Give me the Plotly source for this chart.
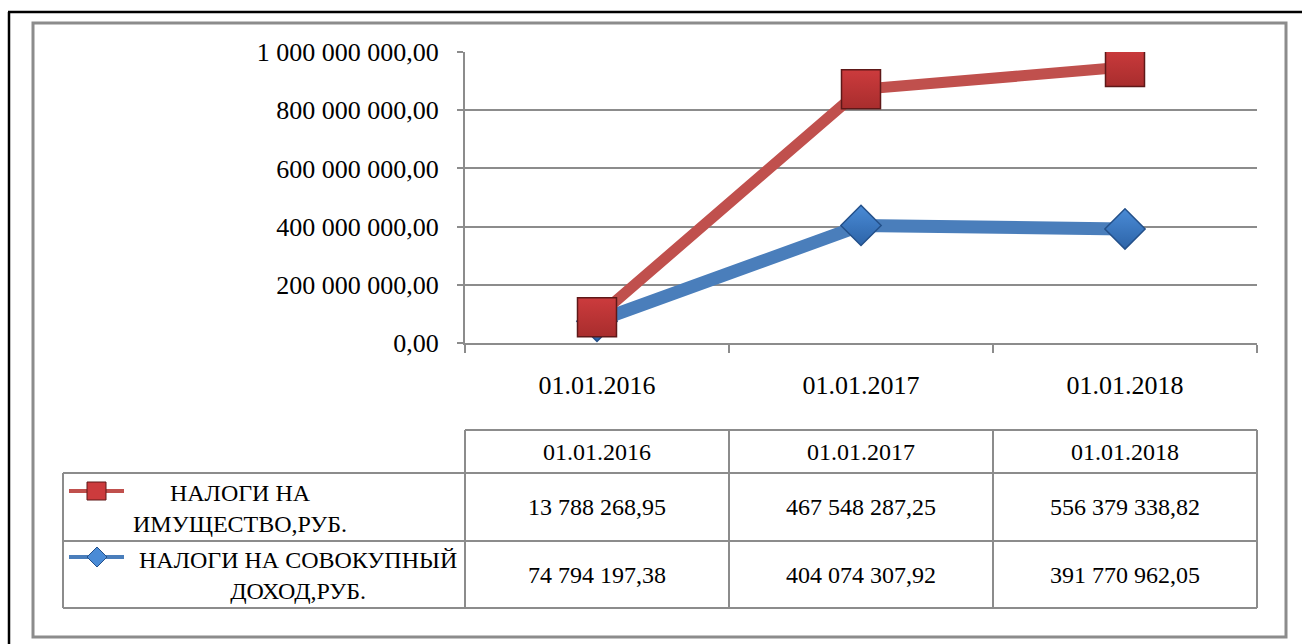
import plotly.graph_objects as go

# ---- data ----
dates = ["01.01.2016", "01.01.2017", "01.01.2018"]
series_names = ["НАЛОГИ НА ИМУЩЕСТВО,РУБ.", "НАЛОГИ НА СОВОКУПНЫЙ ДОХОД,РУБ."]
property_tax = [13788268.95, 467548287.25, 556379338.82]
income_tax = [74794197.38, 404074307.92, 391770962.05]
y_ticks = [0, 200000000, 400000000, 600000000, 800000000, 1000000000]


def ru(v):
    return f"{v:,.2f}".replace(",", " ").replace(".", ",")


W, H = 1302, 644
FONT = "Liberation Serif"
GRAY = "#8C8C8C"
RED_LINE = "#C0504D"
RED_MK = "#CC3B3D"
RED_MK2 = "#A82D2D"
BLUE_LINE = "#4A7EBB"
BLUE_MK = "#4A8BD6"
BLUE_MK2 = "#2D64A8"


def px(x):
    return x / W


def py(y):
    return 1 - y / H


# plot area pixel geometry
X0, X1 = 465, 1257
Y_TOP, Y_BOT = 52, 343

fig = go.Figure()

# stacked lines (blue first, red stacked on top)
fig.add_trace(go.Scatter(
    x=dates, y=income_tax, name=series_names[1], stackgroup="one", fill="none",
    mode="lines+markers",
    line=dict(color=BLUE_LINE, width=13),
    marker=dict(symbol="diamond", size=31, color=BLUE_MK,
                gradient=dict(type="vertical", color=BLUE_MK2),
                line=dict(color="#23508A", width=1.5)),
))
fig.add_trace(go.Scatter(
    x=dates, y=property_tax, name=series_names[0], stackgroup="one", fill="none",
    mode="lines+markers",
    line=dict(color=RED_LINE, width=11),
    marker=dict(symbol="square", size=39, color=RED_MK,
                gradient=dict(type="vertical", color=RED_MK2),
                line=dict(color="#5E1818", width=1.5)),
))

fig.update_layout(
    width=W, height=H,
    autosize=False,
    margin=dict(l=0, r=0, t=0, b=0, pad=0, autoexpand=False),
    paper_bgcolor="white", plot_bgcolor="white",
    showlegend=False,
    font=dict(family=FONT, color="black"),
    xaxis=dict(
        domain=[px(X0), px(X1)],
        type="category", range=[-0.5, 2.5],
        tickson="boundaries", ticks="outside", ticklen=8, tickwidth=2, tickcolor=GRAY,
        showline=True, linecolor=GRAY, linewidth=2,
        showgrid=False, zeroline=False, automargin=False,
        tickfont=dict(family=FONT, size=26, color="black"),
        ticklabelstandoff=18,
    ),
    yaxis=dict(
        domain=[py(Y_BOT), py(Y_TOP)],
        range=[0, 1000000000],
        tickvals=y_ticks, ticktext=[ru(v) for v in y_ticks],
        ticks="outside", ticklen=6, tickwidth=2, tickcolor=GRAY,
        showline=True, linecolor=GRAY, linewidth=2,
        showgrid=True, gridcolor=GRAY, gridwidth=2,
        zeroline=False, automargin=False,
        tickfont=dict(family=FONT, size=26, color="black"),
        ticklabelstandoff=13,
    ),
)

shapes = []


def line(x0, y0, x1, y1, color=GRAY, width=2):
    shapes.append(dict(type="line", xref="paper", yref="paper",
                       x0=px(x0), y0=py(y0), x1=px(x1), y1=py(y1),
                       line=dict(color=color, width=width)))


# outer black frame (document border)
line(8, 12, W, 12, color="black", width=2.5)
line(9, 12, 9, H, color="black", width=2.5)
# chart area frame
shapes.append(dict(type="rect", xref="paper", yref="paper",
                   x0=px(33), y0=py(637), x1=px(1286), y1=py(23),
                   line=dict(color=GRAY, width=3)))

# data table grid
col_edges = [X0, 729, 993, X1]
T_TOP, R1, R2, T_BOT = 430, 473, 541, 608
LEG_X = 63
line(X0, T_TOP, X1, T_TOP)
line(LEG_X, R1, X1, R1)
line(LEG_X, R2, X1, R2)
line(LEG_X, T_BOT, X1, T_BOT)
line(LEG_X, R1, LEG_X, T_BOT)
for cx in col_edges:
    line(cx, T_TOP, cx, T_BOT)

# legend keys
line(69, 491, 124, 491, color=RED_LINE, width=4)
shapes.append(dict(type="rect", xref="paper", yref="paper",
                   x0=px(87), y0=py(500), x1=px(106), y1=py(482),
                   fillcolor=RED_MK, line=dict(color="#5E1818", width=1)))
line(69, 557, 124, 557, color=BLUE_LINE, width=4)
cxd, cyd, hw = 97, 557, 10
path = (f"M {px(cxd - hw)},{py(cyd)} L {px(cxd)},{py(cyd - hw)} "
        f"L {px(cxd + hw)},{py(cyd)} L {px(cxd)},{py(cyd + hw)} Z")
shapes.append(dict(type="path", xref="paper", yref="paper", path=path,
                   fillcolor=BLUE_MK, line=dict(color="#23508A", width=1)))

fig.update_layout(shapes=shapes)

annotations = []
col_centers = [(col_edges[i] + col_edges[i + 1]) / 2 for i in range(3)]
TF = dict(family=FONT, size=24, color="black")
for i, d in enumerate(dates):
    annotations.append(dict(x=px(col_centers[i]), y=py((T_TOP + R1) / 2), xref="paper", yref="paper",
                            text=d, showarrow=False, font=TF, xanchor="center", yanchor="middle"))
    annotations.append(dict(x=px(col_centers[i]), y=py((R1 + R2) / 2), xref="paper", yref="paper",
                            text=ru(property_tax[i]), showarrow=False, font=TF,
                            xanchor="center", yanchor="middle"))
    annotations.append(dict(x=px(col_centers[i]), y=py((R2 + T_BOT) / 2), xref="paper", yref="paper",
                            text=ru(income_tax[i]), showarrow=False, font=TF,
                            xanchor="center", yanchor="middle"))

annotations.append(dict(x=px(240), y=py(508), xref="paper", yref="paper",
                        text="НАЛОГИ НА<br>ИМУЩЕСТВО,РУБ.", showarrow=False, font=TF,
                        align="center", xanchor="center", yanchor="middle"))
annotations.append(dict(x=px(298), y=py(575), xref="paper", yref="paper",
                        text="НАЛОГИ НА СОВОКУПНЫЙ<br>ДОХОД,РУБ.", showarrow=False, font=TF,
                        align="center", xanchor="center", yanchor="middle"))
fig.update_layout(annotations=annotations)

post = ("document.body.style.margin='0';document.body.style.padding='0';"
        "document.body.style.overflow='hidden';"
        "var d=document.getElementById('{plot_id}');"
        "d.style.position='fixed';d.style.left='0px';d.style.top='0px';")

fig.write_html("out.html", post_script=post,
               config={"responsive": False, "displayModeBar": False})
